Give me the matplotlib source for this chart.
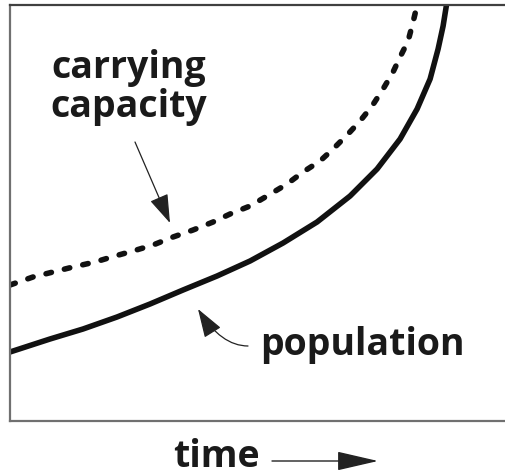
import matplotlib
matplotlib.use("Agg")
import matplotlib.pyplot as plt
from matplotlib.patches import FancyArrowPatch

# values (x = time, y = amount, arbitrary units)
cap_x = [0, 23, 43, 63, 85, 105, 123, 143, 163, 183, 203, 220, 240, 257, 277,
         293, 310, 323, 338, 350, 362, 373, 383, 390, 398, 403, 408]
cap_y = [136, 144, 149, 154, 159, 165, 170, 176, 184, 191, 199, 207, 215, 225,
         237, 249, 260, 272, 287, 300, 315, 332, 349, 364, 380, 399, 420]
pop_x = [0, 40, 73, 107, 140, 173, 207, 240, 273, 307, 340, 367, 390, 407,
         420, 428, 433, 437]
pop_y = [69, 82, 92, 104, 117, 131, 145, 160, 178, 199, 225, 252, 282, 312,
         342, 372, 395, 420]

labels = {"cap": ["carrying", "capacity"], "pop": "population", "x": "time"}

W, H = 506, 477
fig = plt.figure(figsize=(W / 100, H / 100), dpi=100)


def fx(px):
    return px / W


def fy(py):
    return 1 - py / H


ax = fig.add_axes([fx(10), fy(422), fx(506 - 10) + 0.02, (422 - 6) / H])
ax.set_xlim(0, 496 + 10)
ax.set_ylim(0, 416)
ax.spines["left"].set_color("#707070")
ax.spines["bottom"].set_color("#707070")
ax.spines["top"].set_color("#404040")
for s in ["left", "bottom", "top"]:
    ax.spines[s].set_linewidth(1.6)
ax.spines["right"].set_visible(False)
ax.set_xticks([])
ax.set_yticks([])

ax.plot(pop_x, pop_y, color="#111111", lw=4.0, solid_capstyle="butt",
        solid_joinstyle="round")
ax.plot(cap_x, cap_y, color="#111111", lw=4.0, linestyle=(0, (1.0, 2.4)),
        dash_capstyle="round", dash_joinstyle="round")

font = dict(family=["Open Sans", "DejaVu Sans"], weight="bold", color="#1a1a1a",
            fontsize=27)
fig.text(fx(129), fy(78), labels["cap"][0], ha="center", va="baseline", **font)
fig.text(fx(129), fy(117), labels["cap"][1], ha="center", va="baseline", **font)
fig.text(fx(260), fy(355), labels["pop"], ha="left", va="baseline", **font)
fig.text(fx(173), fy(467), labels["x"], ha="left", va="baseline", **font)

# arrows
fig.add_artist(FancyArrowPatch(
    (fx(135), fy(143)), (fx(170), fy(224)), transform=fig.transFigure,
    arrowstyle="-|>,head_length=18,head_width=6", color="#222222", lw=0.9,
    mutation_scale=1, shrinkA=0, shrinkB=0))
fig.add_artist(FancyArrowPatch(
    (fx(248), fy(347)), (fx(198), fy(310)), transform=fig.transFigure,
    connectionstyle="angle3,angleA=180,angleB=122",
    arrowstyle="-|>,head_length=18,head_width=6", color="#222222", lw=0.9,
    mutation_scale=1, shrinkA=0, shrinkB=0))
fig.add_artist(FancyArrowPatch(
    (fx(272), fy(462)), (fx(378), fy(462)), transform=fig.transFigure,
    arrowstyle="-|>,head_length=26,head_width=6", color="#222222", lw=1.0,
    mutation_scale=1, shrinkA=0, shrinkB=0))

fig.savefig("out.png", dpi=100)
